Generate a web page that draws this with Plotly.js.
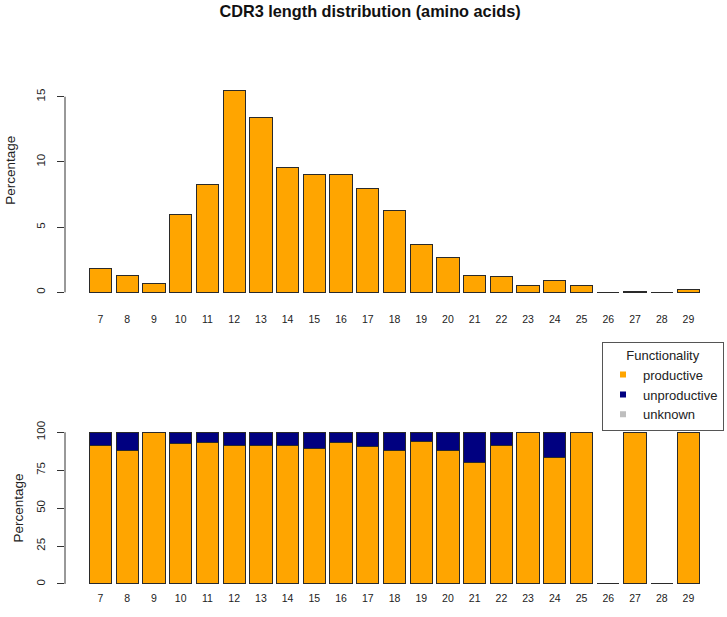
<!DOCTYPE html>
<html>
<head>
<meta charset="utf-8">
<script src="https://cdn.plot.ly/plotly-3.0.1.min.js"></script>
<style>
  html, body { margin: 0; padding: 0; background: white; }
  #chart { width: 727px; height: 617px; }
</style>
</head>
<body>
<div id="chart"></div>
<script>
// CDR3 lengths (amino acids)
const lengths = [7, 8, 9, 10, 11, 12, 13, 14, 15, 16, 17, 18, 19, 20, 21, 22, 23, 24, 25, 26, 27, 28, 29];

// top panel: share of sequences per length
const lengthPercentage = [1.8, 1.3, 0.7, 6.0, 8.3, 15.5, 13.4, 9.6, 9.0, 9.0, 8.0, 6.3, 3.7, 2.7, 1.3, 1.2, 0.5, 0.9, 0.5, 0, 0.1, 0, 0.2];

// bottom panel: functionality split per length
const productivePercentage = [91.2, 88.3, 100, 92.9, 93.0, 91.6, 91.0, 91.4, 89.6, 93.4, 90.7, 87.7, 94.1, 88.3, 80.3, 91.2, 100, 83.1, 100, 0, 100, 0, 100];
const unproductivePercentage = [8.8, 11.7, 0, 7.1, 7.0, 8.4, 9.0, 8.6, 10.4, 6.6, 9.3, 12.3, 5.9, 11.7, 19.7, 8.8, 0, 16.9, 0, 0, 0, 0, 0];
const unknownPercentage = [0, 0, 0, 0, 0, 0, 0, 0, 0, 0, 0, 0, 0, 0, 0, 0, 0, 0, 0, 0, 0, 0, 0];

const topTicks = [0, 5, 10, 15];
const bottomTicks = [0, 25, 50, 75, 100];

const colors = {
  productive: "#FFA500",
  unproductive: "#000080",
  unknown: "#BEBEBE"
};

const edge = {color: "#2a2a2a", width: 1};
const font = "Liberation Sans, Arial, sans-serif";

function barTrace(values, color, xaxis, yaxis, name)
{
  return {
    type: "bar",
    x: lengths,
    y: values,
    name,
    xaxis,
    yaxis,
    showlegend: false,
    marker: {color, line: edge},
    hoverinfo: "x+y"
  };
}

function legendTrace(name, color)
{
  // legend swatch only, like pch = 15 in R
  return {
    type: "scatter",
    mode: "markers",
    x: [null],
    y: [null],
    name,
    xaxis: "x2",
    yaxis: "y2",
    marker: {symbol: "square", size: 6, color}
  };
}

function xAxis(anchor, standoff)
{
  return {
    anchor,
    range: [5.67, 30.33],
    tickmode: "array",
    tickvals: lengths,
    ticktext: lengths.map(String),
    ticks: "",
    showline: false,
    showgrid: false,
    zeroline: false,
    ticklabelstandoff: standoff,
    tickfont: {size: 10.5, color: "#222"}
  };
}

function yAxis(domain, range, tickvals, standoff)
{
  return {
    domain,
    range,
    tickmode: "array",
    tickvals,
    ticks: "outside",
    ticklen: 7,
    tickcolor: "#333",
    tickangle: -90,
    ticklabelstandoff: 7,
    tickfont: {size: 11.5, color: "#222"},
    showline: false,
    showgrid: false,
    zeroline: false,
    title: {text: "Percentage", font: {size: 13.5, color: "#222"}, standoff}
  };
}

function axisLine(yref, top)
{
  return {
    type: "line",
    xref: "paper",
    yref,
    x0: 0,
    x1: 0,
    y0: 0,
    y1: top,
    line: {color: "#333", width: 1}
  };
}

function main()
{
  const div = document.getElementById("chart");

  const traces = [
    barTrace(lengthPercentage, colors.productive, "x", "y", "productive"),
    barTrace(productivePercentage, colors.productive, "x2", "y2", "productive"),
    barTrace(unproductivePercentage, colors.unproductive, "x2", "y2", "unproductive"),
    barTrace(unknownPercentage, colors.unknown, "x2", "y2", "unknown"),
    legendTrace("productive", colors.productive),
    legendTrace("unproductive", colors.unproductive),
    legendTrace("unknown", colors.unknown)
  ];

  const layout = {
    width: 727,
    height: 617,
    margin: {l: 65, r: 3, t: 40, b: 27},
    paper_bgcolor: "white",
    plot_bgcolor: "white",
    font: {family: font, color: "#222"},
    barmode: "stack",
    bargap: 1 / 6,
    title: {
      text: "<b>CDR3 length distribution (amino acids)</b>",
      font: {size: 16.3, color: "#111"},
      xref: "container",
      yref: "container",
      x: 370 / 727,
      xanchor: "center",
      y: 1 - 11.5 / 617,
      yanchor: "middle"
    },
    xaxis: xAxis("y", 11),
    xaxis2: xAxis("y2", 12.5),
    // top panel keeps headroom above the bars, like the R plot region
    yaxis: yAxis([0.5265, 1], [-0.62, 19.35], topTicks, 16),
    yaxis2: yAxis([0, 0.2978], [-4, 104], bottomTicks, 8),
    shapes: [
      axisLine("y", topTicks[topTicks.length - 1]),
      axisLine("y2", bottomTicks[bottomTicks.length - 1])
    ],
    showlegend: true,
    legend: {
      x: 1,
      xanchor: "right",
      y: 0.4515,
      yanchor: "top",
      bgcolor: "white",
      bordercolor: "#555",
      borderwidth: 1,
      font: {size: 13, color: "#222"},
      title: {text: "Functionality", side: "top center", font: {size: 13, color: "#222"}},
      traceorder: "normal"
    }
  };

  Plotly.newPlot(div, traces, layout, {displayModeBar: false, staticPlot: true});
}

main();
</script>
</body>
</html>
